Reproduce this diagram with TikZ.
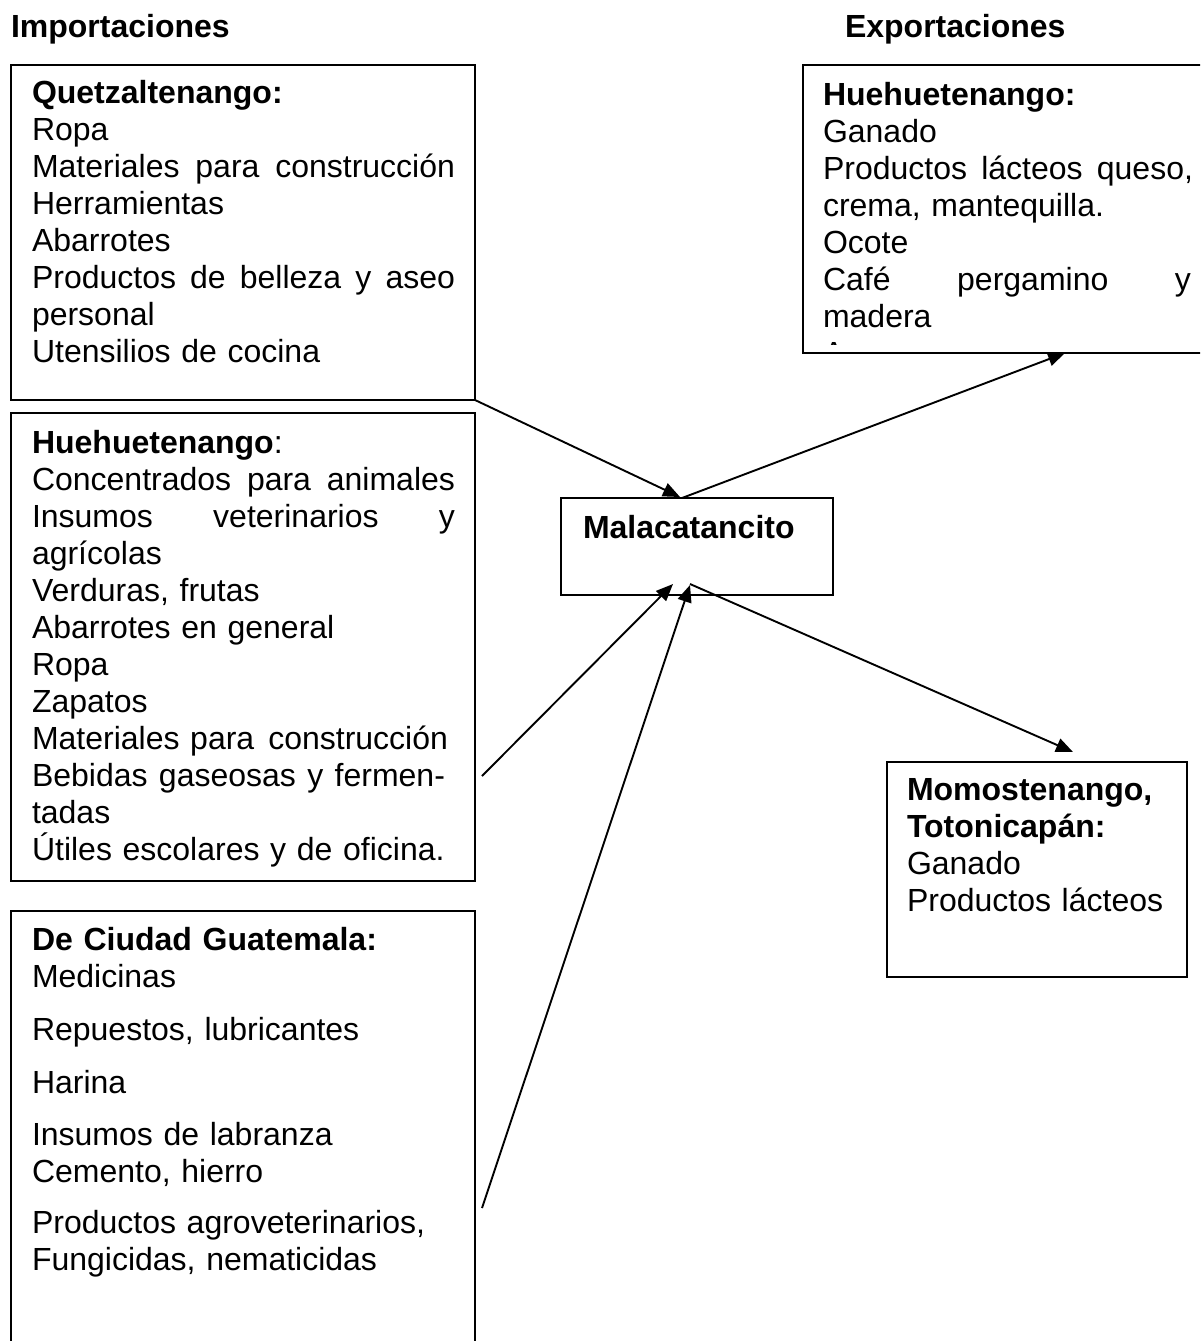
\documentclass[tikz,border=0pt]{standalone}
\usepackage{fontspec}
\setmainfont{Liberation Sans}
\usetikzlibrary{calc,arrows.meta}
\newcommand{\jline}[2]{\leavevmode\hbox to #1{#2}}
\begin{document}
\begin{tikzpicture}[x=1pt,y=-1pt,
  box/.style={draw, line width=2.2pt, anchor=north west, inner sep=0pt, outer sep=0pt},
  txt/.style={anchor=base west, inner sep=0pt, outer sep=0pt, align=left, font=\fontsize{32}{37}\selectfont},
  btxt/.style={anchor=base west, inner sep=0pt, outer sep=0pt, font={\fontsize{32}{37}\selectfont\bfseries}},
  conn/.style={line width=1.9pt, -{Triangle[length=17pt,width=14pt]}}]
\useasboundingbox (0,0) rectangle (1200,1341);
\clip (0,0) rectangle (1200,1341);

% headings
\node[btxt] (imp) at (11,37) {Importaciones};
\node[btxt] (exp) at (845,37) {Exportaciones};

% Quetzaltenango box
\node[box, minimum width=464pt, minimum height=335pt] (q) at (11,65) {};
\node[txt, text width=423pt] (qt) at (32,103) {\textbf{Quetzaltenango:}\\
Ropa\\
\jline{423pt}{Materiales\hfill para\hfill construcción}\\
Herramientas\\
Abarrotes\\
\jline{423pt}{Productos\hfill de\hfill belleza\hfill y\hfill aseo}\\
personal\\
Utensilios de cocina};

% Huehuetenango (imports) box
\node[box, minimum width=464pt, minimum height=468pt] (h) at (11,413) {};
\node[txt, text width=423pt] (ht) at (32,453) {\textbf{Huehuetenango}:\\
\jline{423pt}{Concentrados\hfill para\hfill animales}\\
\jline{423pt}{Insumos\hfill veterinarios\hfill y}\\
agrícolas\\
Verduras, frutas\\
Abarrotes en general\\
Ropa\\
Zapatos\\
\jline{416pt}{Materiales para \hfill construcción}\\
\jline{413pt}{Bebidas\hfill gaseosas\hfill y\hfill fermen-}\\
tadas\\
Útiles escolares y de oficina.};

% Ciudad Guatemala box
\node[box, minimum width=464pt, minimum height=500pt] (c) at (11,911) {};
\node[txt, text width=423pt] (ct) at (32,950) {\textbf{De Ciudad Guatemala:}\\
Medicinas\\[16pt]
Repuestos, lubricantes\\[16pt]
Harina\\[15pt]
Insumos de labranza\\
Cemento, hierro\\[14pt]
Productos agroveterinarios,\\
Fungicidas, nematicidas};

% Malacatancito
\node[box, minimum width=272pt, minimum height=97pt] (m) at (561,498) {};
\node[btxt] (mt) at (583,538) {Malacatancito};

% Huehuetenango (exports) box
\node[box, minimum width=412pt, minimum height=288pt] (r) at (803,65) {};
\begin{scope}
\clip (803,65) rectangle (1200,344);
\node[txt, text width=372pt] (rt) at (823,105) {\textbf{Huehuetenango:}\\
Ganado\\
\jline{370pt}{Productos\hfill lácteos\hfill queso,}\\
crema, mantequilla.\\
Ocote\\
\jline{368pt}{Café\hfill pergamino\hfill y}\\
madera\\
A};
\end{scope}

% Momostenango box
\node[box, minimum width=300pt, minimum height=215pt] (mo) at (887,762) {};
\node[txt, text width=280pt] (mot) at (907,800) {\textbf{Momostenango,}\\
\textbf{Totonicapán:}\\
Ganado\\
Productos lácteos};

% connectors
\draw[conn] (q.south east) -- ([xshift=119pt,yshift=1pt]m.north west);
\draw[conn] ([xshift=121pt]m.north west) -- ([xshift=262pt]r.south west);
\draw[conn] ([xshift=7pt,yshift=105pt]h.south east) -- ([xshift=112pt,yshift=11pt]m.south west);
\draw[conn] ([xshift=7pt,yshift=-297pt]c.north east) -- ([xshift=129pt,yshift=10pt]m.south west);
\draw[conn] ([xshift=129pt,yshift=11pt]m.south west) -- ([xshift=186pt,yshift=10pt]mo.north west);
\end{tikzpicture}
\end{document}
